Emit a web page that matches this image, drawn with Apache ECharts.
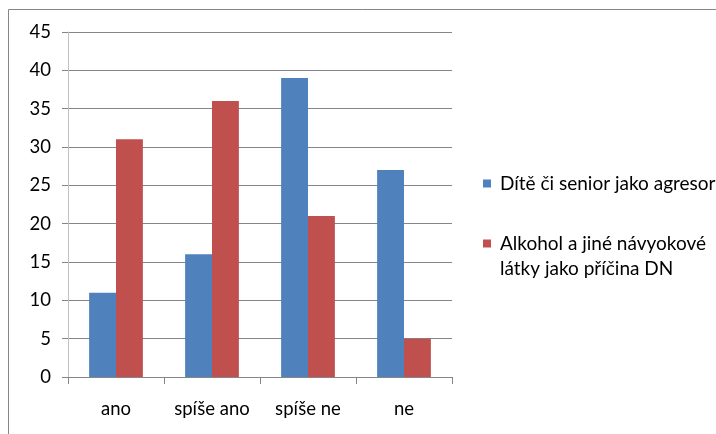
<!DOCTYPE html>
<html><head><meta charset="utf-8">
<script src="https://cdn.jsdelivr.net/npm/echarts@6/dist/echarts.min.js"></script>
<style>html,body{margin:0;padding:0;background:#fff}#c{width:716px;height:434px}</style>
</head><body><div id="c"></div>
<script>
const categories = ['ano', 'spíše ano', 'spíše ne', 'ne'];
const seriesNames = ['Dítě či senior jako agresor', 'Alkohol a jiné návyokové látky jako příčina DN'];
const blueValues = [11, 16, 39, 27];
const redValues = [31, 36, 21, 5];
const yTicks = [0, 5, 10, 15, 20, 25, 30, 35, 40, 45];

const FONT = 'Lato';
const FS = 18.5;
const chart = echarts.init(document.getElementById('c'));
chart.setOption({
  animation: false,
  textStyle: { fontFamily: FONT },
  graphic: [{
    type: 'rect', shape: { x: 8.5, y: 9.5, width: 900, height: 600 },
    style: { fill: 'none', stroke: '#868686', lineWidth: 1 }, silent: true
  }],
  legend: [{
    data: [seriesNames[0]], orient: 'vertical', left: 483, top: 171, padding: 0,
    icon: 'rect', itemWidth: 8, itemHeight: 8,
    textStyle: { fontFamily: FONT, fontSize: 19, color: '#000', lineHeight: 25, padding: [0, 0, 0, 4] }
  }, {
    data: [seriesNames[1]], orient: 'vertical', left: 483, top: 206, padding: 0,
    icon: 'rect', itemWidth: 8, itemHeight: 8,
    formatter: () => ' \nAlkohol a jiné návyokové\nlátky jako příčina DN',
    textStyle: { fontFamily: FONT, fontSize: 19, color: '#000', lineHeight: 25, padding: [0, 0, 0, 4] }
  }],
  grid: { left: 68, right: 264, top: 32, bottom: 57 },
  xAxis: {
    type: 'category', data: categories,
    axisLine: { lineStyle: { color: '#868686' } },
    axisTick: { show: true, length: 7, lineStyle: { color: '#868686' } },
    axisLabel: { interval: 0, hideOverlap: false, fontFamily: FONT, fontSize: FS, color: '#000', margin: 23 }
  },
  yAxis: {
    type: 'value', min: 0, max: 45, interval: 5,
    axisLine: { show: true, lineStyle: { color: '#bfbfbf' } },
    axisTick: { show: true, length: 6, lineStyle: { color: '#868686' } },
    splitLine: { lineStyle: { color: '#868686' } },
    axisLabel: { fontFamily: FONT, fontSize: FS, color: '#000', margin: 17,
      formatter: v => yTicks.includes(v) ? String(v) : '' }
  },
  series: [
    { name: seriesNames[0], type: 'bar', data: blueValues, barGap: '0%', barCategoryGap: '44%',
      itemStyle: { color: '#4f81bd' } },
    { name: seriesNames[1], type: 'bar', data: redValues, barGap: '0%', barCategoryGap: '44%',
      itemStyle: { color: '#c0504d' } }
  ]
});
</script></body></html>
